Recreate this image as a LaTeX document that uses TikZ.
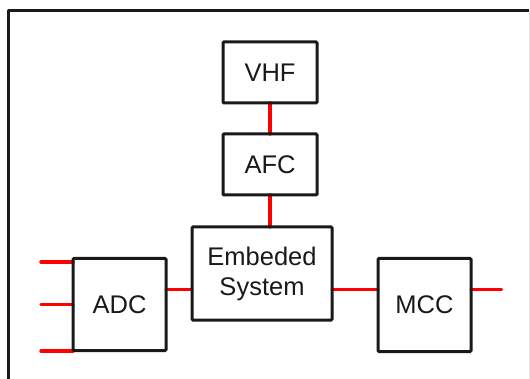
\documentclass[tikz,border=0pt]{standalone}
\usepackage{fontspec}
\setmainfont{Liberation Sans}
\usetikzlibrary{backgrounds}
\begin{document}
\begin{tikzpicture}[x=1pt,y=-1pt,
  block/.style={draw=black!90, line width=3pt, rounded corners=1pt,
    inner sep=0pt, outer sep=0pt, text=black!90,
    font=\fontsize{25.5}{30}\selectfont, align=center},
  link/.style={draw=red, line width=3.5pt, line cap=round},
  frame/.style={draw=black!90, line width=3pt, line join=round}]
  \useasboundingbox (0,0) rectangle (530,379);

  % surrounding frame
  \coordinate (fbl) at (8,382);
  \coordinate (ftl) at (8,11);
  \coordinate (ftr) at (529,11);
  \coordinate (fbr) at (529,382);
  \draw[frame] (fbl) -- (ftl) -- (ftr);
  \draw[draw=black!10, line width=1pt] (ftr) -- (fbr);

  % blocks
  \node[block, minimum width=94pt, minimum height=61pt] (vhf) at (270,72.5) {VHF};
  \node[block, minimum width=94pt, minimum height=61pt] (afc) at (270,164.5) {AFC};
  \node[block, minimum width=140pt, minimum height=93pt] (emb) at (262,273.5) {Embeded\\System};
  \node[block, minimum width=93pt, minimum height=92pt] (adc) at (119.5,304.5) {ADC};
  \node[block, minimum width=93pt, minimum height=93pt] (mcc) at (424.5,305) {MCC};

  % signal level and free ends
  \coordinate (bus) at (0,289.3);
  \coordinate (in1) at (41,262);
  \coordinate (in2) at (41,304.5);
  \coordinate (in3) at (41,351);
  \coordinate (out) at (501.5,289.3);

  \begin{scope}[on background layer]
    \draw[link] (vhf.south) -- (afc.north);
    \draw[link] (afc.south) -- (afc.south |- emb.north);
    \draw[link] (adc.east |- bus) -- (emb.west |- bus);
    \draw[link] (emb.east |- bus) -- (mcc.west |- bus);
    \draw[link] (mcc.east |- bus) -- (out);
    \draw[link] (in1) -- (adc.west |- in1);
    \draw[link] (in2) -- (adc.west |- in2);
    \draw[link] (in3) -- (adc.west |- in3);
  \end{scope}
\end{tikzpicture}
\end{document}
